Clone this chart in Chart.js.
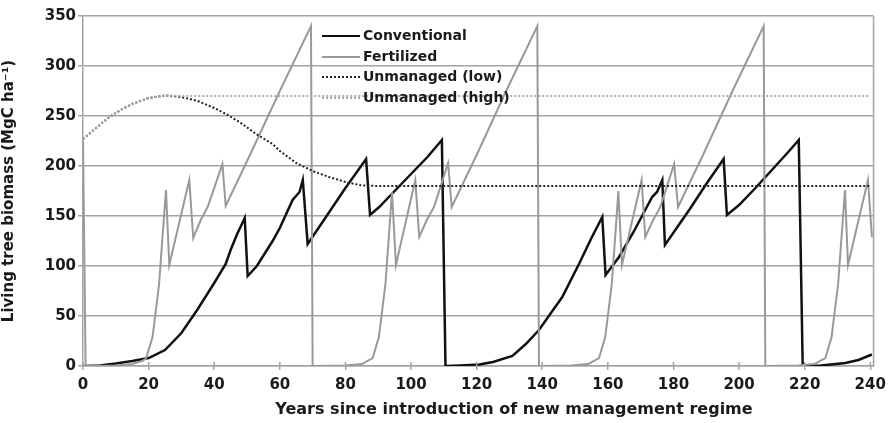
<!DOCTYPE html>
<html>
<head>
<meta charset="utf-8">
<script src="https://cdn.jsdelivr.net/npm/chart.js@4"></script>
<style>
  body { margin: 0; background: #fff; }
  #wrap { position: relative; width: 892px; height: 423px; }
  .legend { position: absolute; left: 322px; top: 25px; font: bold 14px "DejaVu Sans", sans-serif; color: #1a1a1a; }
  .legend .row { position: relative; height: 20.5px; line-height: 20px; padding-left: 41px; white-space: nowrap; }
  .legend .swatch { position: absolute; left: 0; top: 10px; width: 38px; height: 0; }
</style>
</head>
<body>
<div id="wrap">
  <canvas id="biomassChart"></canvas>
  <div class="legend">
    <div class="row"><span class="swatch" style="border-top: 2.5px solid #111;"></span>Conventional</div>
    <div class="row"><span class="swatch" style="border-top: 2px solid #999;"></span>Fertilized</div>
    <div class="row"><span class="swatch" style="border-top: 2px dotted #222;"></span>Unmanaged (low)</div>
    <div class="row"><span class="swatch" style="border-top: 2px dotted #aaa;"></span>Unmanaged (high)</div>
  </div>
</div>
<script>
// years / biomass
let conventionalYears = [0.5, 5, 10, 15, 20, 25, 30, 35, 40, 43.5, 45, 47, 49.3, 50.2, 53, 57.8, 60, 63.9, 66, 67, 68.5, 72, 80, 86.3, 87.5, 90.3, 95, 100, 105, 109.4, 110.5,
    115, 120.8, 125, 130.9, 135, 139, 142, 146.1, 151.2, 155, 158.3, 159.3, 163.4, 168, 173.5, 175, 176.6, 177.4, 185, 190, 195.3, 196.3, 200, 205, 210, 215, 218.2, 219.4,
    225, 232.4, 236.4, 240.5];
let conventionalBiomass = [0, 0.5, 2.4, 5, 8, 16, 33, 57, 83, 102, 116, 132, 148, 90, 100, 125, 138, 166, 174, 186, 122, 139, 178, 207, 151, 159, 175, 192, 209, 226, 0,
    0.5, 1.5, 4, 10, 22, 36, 50, 69, 102, 128, 149, 91, 109, 135, 169, 174, 186, 121, 157, 182, 207, 151, 161, 178, 196, 214, 226, 0,
    0.5, 3, 6, 11.5];

let fertilizedYears = [0, 0.8, 5, 10, 15, 18, 19.2, 21.2, 23.2, 24.3, 25.3, 26.3, 32.4, 33.6, 35.9, 38, 42.5, 43.5, 50.6, 60, 69.5, 70,
    75, 80, 85, 88.3, 90.2, 92.2, 93.3, 94.2, 95.4, 101.3, 102.5, 104.8, 107, 111.3, 112.4, 120, 129, 138.5, 139,
    144, 149, 154, 157.3, 159.2, 161.2, 162.3, 163.2, 164.3, 170.3, 171.4, 173.8, 176, 180.2, 181.4, 189, 198, 207.5, 208,
    213, 218, 223, 226.3, 228.2, 230.2, 231.3, 232.3, 233.2, 239.3, 240.5];
let fertilizedBiomass = [225, 0, 0.2, 0.5, 2, 5, 7.5, 29, 82, 132, 176, 101, 186, 128, 146, 159, 202, 160, 209, 275, 340, 0,
    0.2, 0.5, 2, 8, 29, 82, 132, 174, 101, 186, 129, 146, 159, 203, 159, 211, 275, 340, 0,
    0.2, 0.5, 2, 8, 29, 82, 132, 175, 101, 186, 129, 146, 159, 202, 159, 211, 275, 340, 0,
    0.2, 0.5, 2, 8, 29, 82, 132, 176, 101, 186, 129];

let lowYears = [0, 4, 8, 12, 15, 20, 25, 30, 35, 40, 43.6, 47.7, 52.8, 57.8, 60, 65, 70, 75, 80, 85, 90, 240];
let lowBiomass = [227, 238, 249, 257, 262, 268, 270.5, 269, 265, 258, 252, 244, 232, 222, 215, 203, 195, 189, 184, 180.5, 180, 180];

let highYears = [0, 4, 8, 12, 15, 20, 25, 30, 240];
let highBiomass = [227, 238, 249, 257, 262, 268, 270.5, 270, 270];

let xTickValues = [0, 20, 40, 60, 80, 100, 120, 140, 160, 180, 200, 220, 240];

function toPoints(xs, ys) {
    return xs.map(function (x, i) { return { x: x, y: ys[i] }; });
}

let axisFont = { family: 'DejaVu Sans', weight: 'bold', size: 15 };
let gridGray = '#a3a3a3';

// small tick marks above the x axis, right frame line and the x title
let extras = {
    id: 'extras',
    afterDraw: function (chart) {
        let ctx = chart.ctx;
        let area = chart.chartArea;
        let xs = chart.scales.x;
        ctx.save();
        ctx.strokeStyle = gridGray;
        ctx.lineWidth = 1.5;
        ctx.beginPath();
        xTickValues.forEach(function (v) {
            let px = xs.getPixelForValue(v);
            ctx.moveTo(px, area.bottom);
            ctx.lineTo(px, area.bottom - 4);
        });
        ctx.moveTo(area.right, area.top);
        ctx.lineTo(area.right, area.bottom);
        ctx.stroke();
        ctx.fillStyle = '#1a1a1a';
        ctx.font = 'bold 16px "DejaVu Sans"';
        ctx.textAlign = 'center';
        ctx.textBaseline = 'middle';
        ctx.fillText('Years since introduction of new management regime', 514, 410);
        ctx.restore();
    }
};

let ctx = document.getElementById('biomassChart').getContext('2d');
let biomassChart = new Chart(ctx, {
    type: 'line',
    data: {
        datasets: [{
            label: 'Conventional',
            data: toPoints(conventionalYears, conventionalBiomass),
            borderColor: '#111',
            borderWidth: 2.5,
            order: 4
        }, {
            label: 'Fertilized',
            data: toPoints(fertilizedYears, fertilizedBiomass),
            borderColor: '#999',
            borderWidth: 2,
            order: 3
        }, {
            label: 'Unmanaged (low)',
            data: toPoints(lowYears, lowBiomass),
            borderColor: '#222',
            borderWidth: 2,
            borderDash: [2, 2],
            order: 2
        }, {
            label: 'Unmanaged (high)',
            data: toPoints(highYears, highBiomass),
            borderColor: '#aaa',
            borderWidth: 2,
            borderDash: [2, 2],
            order: 1
        }]
    },
    options: {
        responsive: true,
        maintainAspectRatio: false,
        animation: false,
        layout: { padding: { top: 16, right: 17, left: 0, bottom: 0 } },
        elements: { point: { radius: 0 }, line: { tension: 0, fill: false } },
        plugins: {
            legend: { display: false },
            tooltip: { enabled: false }
        },
        scales: {
            x: {
                type: 'linear',
                min: 0,
                max: 241,
                afterBuildTicks: function (scale) {
                    scale.ticks = xTickValues.map(function (v) { return { value: v }; });
                },
                afterFit: function (scale) { scale.height = 57; },
                grid: { drawOnChartArea: false, color: gridGray, lineWidth: 1.5, tickLength: 4 },
                border: { color: gridGray, width: 1.5 },
                ticks: { color: '#1a1a1a', font: axisFont, padding: 6, maxRotation: 0 }
            },
            y: {
                min: 0,
                max: 350,
                afterFit: function (scale) { scale.width = 83; },
                grid: { color: gridGray, lineWidth: 1.5, tickLength: 5 },
                border: { color: gridGray, width: 1.5 },
                ticks: { stepSize: 50, color: '#1a1a1a', font: axisFont, padding: 2 },
                title: {
                    display: true,
                    text: 'Living tree biomass (MgC ha\u207B\u00B9)',
                    color: '#1a1a1a',
                    font: { family: 'DejaVu Sans', weight: 'bold', size: 15 },
                    padding: { top: 0, bottom: 0 }
                }
            }
        }
    },
    plugins: [extras]
});
</script>
</body>
</html>
